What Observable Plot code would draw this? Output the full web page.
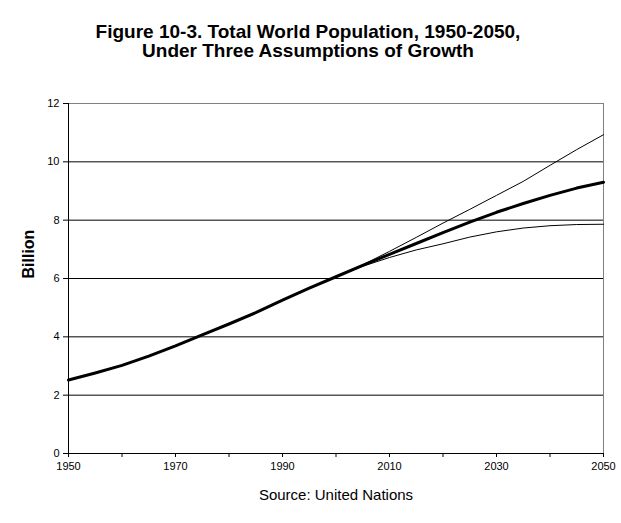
<!DOCTYPE html>
<html>
<head>
<meta charset="utf-8">
<script src="https://cdn.jsdelivr.net/npm/d3@7"></script>
<script src="https://cdn.jsdelivr.net/npm/@observablehq/plot@0.6"></script>
<style>
  html, body { margin: 0; padding: 0; background: #fff; }
</style>
</head>
<body>
<div id="chart"></div>
<script>
// Data (billions)
const years = [1950, 1955, 1960, 1965, 1970, 1975, 1980, 1985, 1990, 1995, 2000, 2005, 2010, 2015, 2020, 2025, 2030, 2035, 2040, 2045, 2050];
const medium = [2.52, 2.76, 3.02, 3.34, 3.69, 4.07, 4.44, 4.83, 5.26, 5.67, 6.06, 6.45, 6.83, 7.20, 7.57, 7.93, 8.27, 8.57, 8.85, 9.10, 9.30];
const projYears = [2000, 2005, 2010, 2015, 2020, 2025, 2030, 2035, 2040, 2045, 2050];
const high = [6.06, 6.47, 6.93, 7.41, 7.90, 8.37, 8.85, 9.33, 9.88, 10.42, 10.93];
const low = [6.06, 6.42, 6.72, 6.98, 7.19, 7.42, 7.60, 7.73, 7.81, 7.85, 7.86];

const yTicks = [0, 2, 4, 6, 8, 10, 12];
const gridValues = [2, 4, 6, 8, 10];
const xTicks = [1950, 1960, 1970, 1980, 1990, 2000, 2010, 2020, 2030, 2040, 2050];
const xLabels = [1950, 1970, 1990, 2010, 2030, 2050];

const titleLines = ["Figure 10-3. Total World Population, 1950-2050,", "Under Three Assumptions of Growth"];
const yLabel = "Billion";
const sourceText = "Source: United Nations";

const mediumData = years.map((y, i) => ({year: y, value: medium[i]}));
const highData = projYears.map((y, i) => ({year: y, value: high[i]}));
const lowData = projYears.map((y, i) => ({year: y, value: low[i]}));

const font = "'Liberation Sans', Arial, Helvetica, sans-serif";

const chart = Plot.plot({
  width: 621,
  height: 523,
  marginLeft: 68,
  marginRight: 18,
  marginTop: 103,
  marginBottom: 70,
  style: {fontFamily: font, fontSize: "11px", color: "black", background: "white"},
  x: {domain: [1950, 2050]},
  y: {domain: [0, 12]},
  marks: [
    Plot.frame({stroke: "#808080"}),
    Plot.ruleY(gridValues, {stroke: "black", strokeWidth: 1}),
    Plot.ruleY([0], {stroke: "black"}),
    Plot.ruleX([1950], {stroke: "black"}),
    Plot.axisY({ticks: yTicks, tickSize: 5, tickPadding: 4, label: null, fontSize: 11}),
    Plot.axisX({ticks: xTicks, tickSize: 4, tickPadding: 5, label: null, fontSize: 11,
      tickFormat: d => xLabels.includes(d) ? String(d) : ""}),
    Plot.line(highData, {x: "year", y: "value", stroke: "black", strokeWidth: 1}),
    Plot.line(lowData, {x: "year", y: "value", stroke: "black", strokeWidth: 1}),
    Plot.line(mediumData, {x: "year", y: "value", stroke: "black", strokeWidth: 3}),
    Plot.text([titleLines[0]], {frameAnchor: "top", dx: -28, dy: -72, fontSize: 19, fontWeight: "bold",
      lineAnchor: "middle", fill: "black"}),
    Plot.text([titleLines[1]], {frameAnchor: "top", dx: -28, dy: -53, fontSize: 19, fontWeight: "bold",
      lineAnchor: "middle", fill: "black"}),
    Plot.text([yLabel], {frameAnchor: "left", dx: -40, rotate: -90, fontSize: 16, fontWeight: "bold",
      lineAnchor: "middle", fill: "black"}),
    Plot.text([sourceText], {frameAnchor: "bottom", dy: 41.5, fontSize: 15, lineAnchor: "middle", fill: "black"})
  ]
});
document.getElementById("chart").appendChild(chart);
</script>
</body>
</html>
